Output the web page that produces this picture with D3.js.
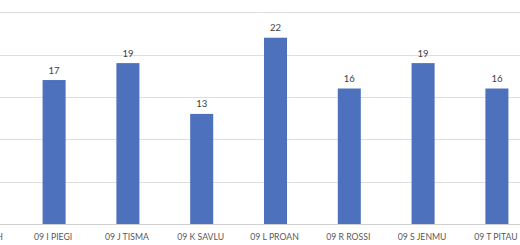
<!DOCTYPE html>
<html>
<head>
<meta charset="utf-8">
<script src="https://cdn.jsdelivr.net/npm/d3@7"></script>
<style>
  html, body { margin: 0; padding: 0; background: #fff; }
  svg { display: block; }
</style>
</head>
<body>
<div id="chart"></div>
<script>
// data (first category is cut off at the left edge)
const categories = ['09 H MARH', '09 I PIEGI', '09 J TISMA', '09 K SAVLU', '09 L PROAN', '09 R ROSSI', '09 S JENMU', '09 T PITAU']
const values = [null, 17, 19, 13, 22, 16, 19, 16]
const yTicks = [0, 5, 10, 15, 20, 25]

const width = 520
const height = 245
const font = 'Lato, Carlito, Liberation Sans, sans-serif'

const svg = d3.select('#chart').append('svg')
  .attr('width', width)
  .attr('height', height)

// the band runs past the left edge, the chart is cropped there
const x = d3.scaleBand()
  .domain(categories)
  .range([-56.6, -56.6 + categories.length * 73.8])
  .paddingInner(0.688)
  .paddingOuter(0.344)

const y = d3.scaleLinear()
  .domain([0, 25])
  .range([224, 12.3])

// gridlines
svg.append('g')
  .selectAll('line')
  .data(yTicks)
  .join('line')
  .attr('x1', 0)
  .attr('x2', width)
  .attr('y1', d => Math.round(y(d)) + 0.5)
  .attr('y2', d => Math.round(y(d)) + 0.5)
  .attr('stroke', d => d === 0 ? '#d0d0d0' : '#dedede')
  .attr('stroke-width', 1)

const data = categories.map((c, i) => ({ c, v: values[i] }))
const shown = data.filter(d => d.v != null)

// bars
svg.append('g')
  .selectAll('rect')
  .data(shown)
  .join('rect')
  .attr('x', d => x(d.c))
  .attr('width', x.bandwidth())
  .attr('y', d => y(d.v))
  .attr('height', d => y(0) - y(d.v))
  .attr('fill', '#4e71be')

// value labels
svg.append('g')
  .selectAll('text')
  .data(shown)
  .join('text')
  .attr('x', d => x(d.c) + x.bandwidth() / 2)
  .attr('y', d => y(d.v) - 6.5)
  .attr('text-anchor', 'middle')
  .attr('font-family', font)
  .attr('font-size', 9.5)
  .attr('fill', '#404040')
  .text(d => d.v)

// category labels
svg.append('g')
  .selectAll('text')
  .data(categories)
  .join('text')
  .attr('x', d => x(d) + x.bandwidth() / 2 - 1)
  .attr('y', 239.5)
  .attr('text-anchor', 'middle')
  .attr('font-family', font)
  .attr('font-size', 8.7)
  .attr('fill', '#595959')
  .text(d => d)
</script>
</body>
</html>
